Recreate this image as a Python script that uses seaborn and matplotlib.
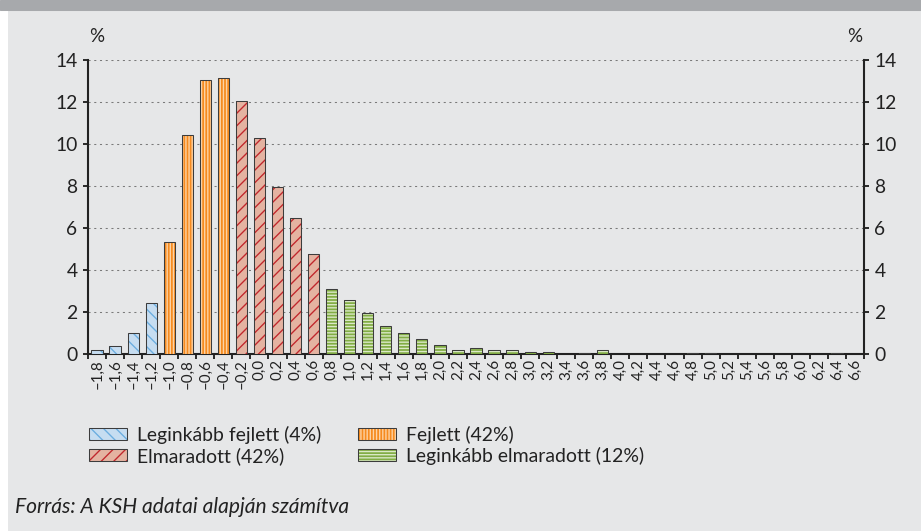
import numpy as np
import matplotlib.pyplot as plt
import seaborn as sns
from matplotlib.patches import Patch, Rectangle
from matplotlib.legend_handler import HandlerTuple

# bins of the distribution (x axis tick labels)
bins = ["–1,8", "–1,6", "–1,4", "–1,2", "–1,0", "–0,8", "–0,6", "–0,4", "–0,2",
        "0,0", "0,2", "0,4", "0,6", "0,8", "1,0", "1,2", "1,4", "1,6", "1,8",
        "2,0", "2,2", "2,4", "2,6", "2,8", "3,0", "3,2", "3,4", "3,6", "3,8",
        "4,0", "4,2", "4,4", "4,6", "4,8", "5,0", "5,2", "5,4", "5,6", "5,8",
        "6,0", "6,2", "6,4", "6,6"]

# share of settlements, %
shares = [0.2, 0.4, 1.0, 2.45, 5.35, 10.45, 13.05, 13.15, 12.05,
          10.3, 7.95, 6.5, 4.75, 3.1, 2.55, 1.95, 1.35, 1.0, 0.7,
          0.45, 0.2, 0.3, 0.2, 0.2, 0.1, 0.1, 0.0, 0.05, 0.2,
          0.0, 0.0, 0.0, 0.0, 0.05, 0.05, 0.0, 0.0, 0.0, 0.0,
          0.0, 0.0, 0.05, 0.0]

# group of each bin
groups = (["lf"] * 4 + ["f"] * 4 + ["e"] * 5 + ["le"] * 30)

group_names = {"lf": "Leginkább fejlett (4%)", "f": "Fejlett (42%)",
               "e": "Elmaradott (42%)", "le": "Leginkább elmaradott (12%)"}

# face colour, hatch colour, hatch pattern
styles = {"lf": ("#c6ddf1", "#6caee0", "\\\\"),
          "f": ("#f68b1f", "#fdd3a6", "||||"),
          "e": ("#e4b3a1", "#c1272d", "//"),
          "le": ("#82ad45", "#dbe9c7", "----")}

BG = "#e6e7e8"
EDGE = "#3c3c3c"
INK = "#222222"

plt.rcParams["hatch.linewidth"] = 1.3
plt.rcParams["font.family"] = ["Lato", "DejaVu Sans"]

fig = plt.figure(figsize=(921 / 75, 531 / 75), dpi=75, facecolor=BG)
fig.patches.append(Rectangle((0, 0), 7 / 921, 1, transform=fig.transFigure,
                             color="white", zorder=0))
fig.patches.append(Rectangle((0, 1 - 10 / 531), 1, 10 / 531, transform=fig.transFigure,
                             color="#a7a9ac", zorder=1))

ax = fig.add_axes([88 / 921, 1 - 354 / 531, (864 - 88) / 921, (354 - 60) / 531])
ax.set_facecolor(BG)

# hatched fill layer
sns.barplot(x=bins, y=shares, width=0.62, color="white", ax=ax, zorder=3)
n = len(bins)
for p, g in zip(ax.patches[:n], groups):
    face, hcol, hatch = styles[g]
    p.set_facecolor(face)
    p.set_edgecolor(hcol)
    p.set_hatch(hatch)
    p.set_linewidth(0)

# outline layer
sns.barplot(x=bins, y=shares, width=0.62, color="white", ax=ax, zorder=4)
for p in ax.patches[n:]:
    p.set_facecolor("none")
    p.set_edgecolor(EDGE)
    p.set_linewidth(1.0)

ax.set_xlim(-0.5, n - 0.5)
ax.set_ylim(0, 14)
ax.set_yticks(np.arange(0, 15, 2))
ax.set_xlabel("")
ax.set_ylabel("")

ax.set_xticks(np.arange(n))
ax.set_xticklabels(bins, rotation=90, fontsize=14.5)
ax.set_xticks(np.arange(-0.5, n, 1), minor=True)
ax.tick_params(axis="x", which="major", length=0, pad=5, colors=INK)
ax.tick_params(axis="x", which="minor", length=5, width=1.8, direction="out", color=INK)
ax.tick_params(axis="y", length=5, width=1.8, direction="out", labelsize=18.5,
               right=True, labelright=True, pad=5, colors=INK)

for side in ["left", "right", "bottom"]:
    ax.spines[side].set_linewidth(2)
    ax.spines[side].set_color(INK)
ax.spines["top"].set_visible(False)

ax.yaxis.grid(True, linestyle=(0, (2, 3.5)), color="#7a7a7a", linewidth=1)
ax.set_axisbelow(True)

fig.text(97 / 921, 1 - 36 / 531, "%", fontsize=18, ha="center", va="center", color=INK)
fig.text(855 / 921, 1 - 36 / 531, "%", fontsize=18, ha="center", va="center", color=INK)

order = ["lf", "e", "f", "le"]
handles = []
for key in order:
    face, hcol, hatch = styles[key]
    handles.append((Patch(facecolor=face, edgecolor=hcol, hatch=hatch, linewidth=0),
                    Patch(facecolor="none", edgecolor=EDGE, linewidth=1.0)))
labels = [group_names[k] for k in order]
F = 19.4
fig.legend(handles, labels, handler_map={tuple: HandlerTuple(ndivide=1)},
           ncol=2, fontsize=F * 0.96, frameon=False,
           loc="upper left", bbox_to_anchor=(89 / 921, 1 - 426 / 531),
           handlelength=38 / F, handleheight=11 / F, handletextpad=10 / F,
           columnspacing=37 / F, labelspacing=0.16, borderaxespad=0, borderpad=0,
           labelcolor=INK)

fig.text(15 / 921, 1 - 507 / 531, "Forrás: A KSH adatai alapján számítva",
         fontsize=20.2, style="italic", ha="left", va="center", color=INK)

fig.savefig("out.png", dpi=75, facecolor=BG)
